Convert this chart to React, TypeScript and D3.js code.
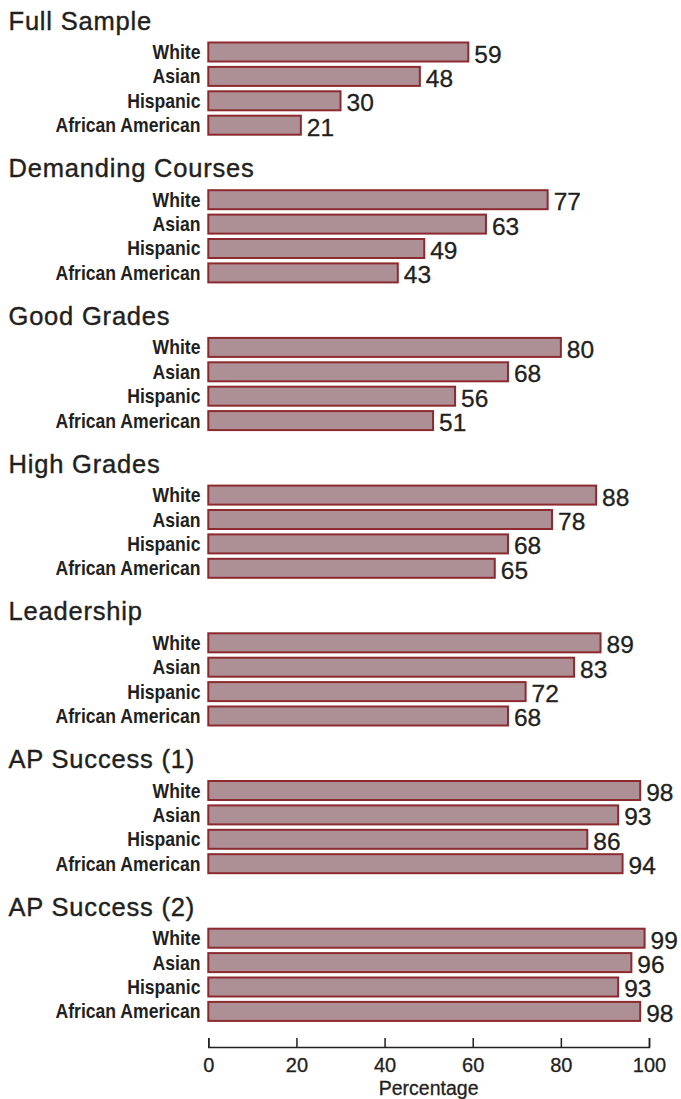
import { useEffect, useRef } from 'react';
import * as d3 from 'd3';

const groups = ['Full Sample', 'Demanding Courses', 'Good Grades', 'High Grades', 'Leadership', 'AP Success (1)', 'AP Success (2)'];
const categories = ['White', 'Asian', 'Hispanic', 'African American'];
const whiteValues = [59, 77, 80, 88, 89, 98, 99];
const asianValues = [48, 63, 68, 78, 83, 93, 96];
const hispanicValues = [30, 49, 56, 68, 72, 86, 93];
const africanAmericanValues = [21, 43, 51, 65, 68, 94, 98];
const tickValues = [0, 20, 40, 60, 80, 100];
const axisTitle = 'Percentage';

const seriesByCategory = [whiteValues, asianValues, hispanicValues, africanAmericanValues];

const WIDTH = 681;
const HEIGHT = 1099;
const GROUP_STEP = 147.7;
const TEXT = '#231f20';
const BAR_FILL = '#ad8f96';
const BAR_STROKE = '#8c2a30';
const SANS = '"Liberation Sans", Arial, Helvetica, sans-serif';

export default function App() {
  const axisRef = useRef<SVGGElement | null>(null);

  const x = d3.scaleLinear().domain([0, 100]).range([208.3, 649]);
  const groupY = d3.scaleBand<string>().domain(groups).range([0, groups.length * GROUP_STEP]);
  const barY = d3.scaleBand<string>().domain(categories).range([42.5, 134.7]).paddingInner(0.221);
  const axisY = 1047;

  useEffect(() => {
    if (!axisRef.current) return;
    const g = d3.select(axisRef.current);
    g.selectAll('*').remove();
    g.call(
      d3.axisBottom(x).tickValues(tickValues).tickSizeInner(-9).tickSizeOuter(-9).tickPadding(11).tickFormat((d) => String(d))
    );
    g.select('.domain').attr('stroke', TEXT).attr('stroke-width', 1.5);
    g.selectAll('.tick line').attr('stroke', TEXT).attr('stroke-width', 1.5);
    g.selectAll('.tick text')
      .attr('fill', TEXT)
      .attr('stroke', TEXT)
      .attr('stroke-width', 0.3)
      .attr('font-size', 20)
      .attr('font-family', SANS);
  }, []);

  return (
    <svg width={WIDTH} height={HEIGHT} style={{ position: 'absolute', left: 0, top: 0 }}>
      <rect width={WIDTH} height={HEIGHT} fill="#fff" />
      {groups.map((group, gi) => {
        const top = groupY(group) ?? 0;
        return (
          <g key={group} transform={`translate(0,${top})`}>
            <text
              x={8.5}
              y={29.5}
              fill={TEXT}
              stroke={TEXT}
              strokeWidth={0.4}
              fontFamily={SANS}
              fontSize={25.5}
              letterSpacing={0.8}
            >
              {group}
            </text>
            {categories.map((cat, ci) => {
              const value = seriesByCategory[ci][gi];
              const by = barY(cat) ?? 0;
              const bh = barY.bandwidth();
              return (
                <g key={cat}>
                  <g transform={`translate(200.5,${by + bh / 2 + 7}) scale(0.88,1)`}>
                    <text textAnchor="end" fill={TEXT} fontFamily={SANS} fontWeight="bold" fontSize={20}>
                      {cat}
                    </text>
                  </g>
                  <rect
                    x={x(0)}
                    y={by}
                    width={x(value) - x(0)}
                    height={bh}
                    fill={BAR_FILL}
                    stroke={BAR_STROKE}
                    strokeWidth={2}
                  />
                  <text
                    x={x(value) + 6}
                    y={by + bh + 1}
                    fill={TEXT}
                    stroke={TEXT}
                    strokeWidth={0.3}
                    fontFamily={SANS}
                    fontSize={24.5}
                  >
                    {value}
                  </text>
                </g>
              );
            })}
          </g>
        );
      })}
      <g ref={axisRef} transform={`translate(0,${axisY})`} />
      <text
        x={(x(0) + x(100)) / 2}
        y={1095}
        textAnchor="middle"
        fill={TEXT}
        stroke={TEXT}
        strokeWidth={0.3}
        fontFamily={SANS}
        fontSize={19.5}
      >
        {axisTitle}
      </text>
    </svg>
  );
}
